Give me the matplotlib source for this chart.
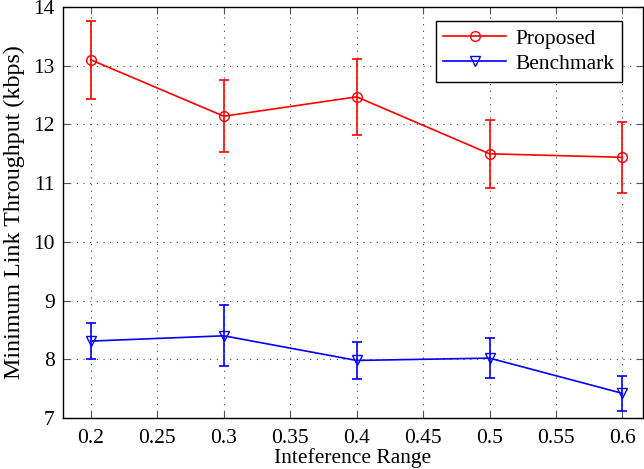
import matplotlib
matplotlib.use("Agg")
import matplotlib.pyplot as plt
from matplotlib.lines import Line2D

x = [0.2, 0.3, 0.4, 0.5, 0.6]
proposed = [13.10, 12.14, 12.47, 11.50, 11.44]
proposed_err = [0.67, 0.61, 0.65, 0.58, 0.60]
benchmark = [8.31, 8.40, 7.98, 8.02, 7.42]
benchmark_err = [0.30, 0.52, 0.32, 0.34, 0.30]
xticks = [0.2, 0.25, 0.3, 0.35, 0.4, 0.45, 0.5, 0.55, 0.6]
yticks = [7, 8, 9, 10, 11, 12, 13, 14]

plt.rcParams['font.family'] = ['Liberation Serif', 'DejaVu Serif']
plt.rcParams['font.size'] = 15.5

fig = plt.figure(figsize=(6.44, 4.69), dpi=100)
ax = fig.add_axes([63/644, 1-418/469, 580/644, 411/469])

ax.errorbar(x, proposed, yerr=proposed_err, color='#ff0000', marker='o', mfc='none',
            mec='#ff0000', ms=7, lw=1.2, capsize=3.5, elinewidth=1.2, capthick=1.2)
ax.errorbar(x, benchmark, yerr=benchmark_err, color='#0000ff', marker='v', mfc='none',
            mec='#0000ff', ms=7, lw=1.2, capsize=3.5, elinewidth=1.2, capthick=1.2)

ax.set_xlim(0.179, 0.6155)
ax.set_ylim(7, 14)
ax.set_xticks(xticks)
ax.set_xticklabels([f"{t:g}" for t in xticks])
ax.set_yticks(yticks)
ax.grid(True, linestyle=(0, (1, 5)), color='#444444', linewidth=0.8)
ax.tick_params(axis='both', direction='in', top=True, right=True, length=5,
               labelsize=15.5, color='#555555')
ax.tick_params(axis='x', pad=8)
ax.tick_params(axis='y', pad=6)
for s in ax.spines.values():
    s.set_linewidth(1.0)
ax.set_xlabel('Inteference Range', fontsize=15.5, labelpad=0)
ax.set_ylabel('Minimum Link Throughput (kbps)', fontsize=17.3, labelpad=6)

handles = [Line2D([], [], color='#ff0000', marker='o', mfc='none', ms=7, lw=1.2),
           Line2D([], [], color='#0000ff', marker='v', mfc='none', ms=7, lw=1.2)]
leg = ax.legend(handles, ['Proposed', 'Benchmark'], loc='upper right',
                bbox_to_anchor=(0.964, 0.966), fancybox=False,
                edgecolor='black', framealpha=1, fontsize=15.5, handlelength=2.9,
                borderpad=0.35, labelspacing=0.25, handletextpad=0.45, borderaxespad=0)
leg.get_frame().set_linewidth(1.0)

fig.savefig('out.png', dpi=100)
